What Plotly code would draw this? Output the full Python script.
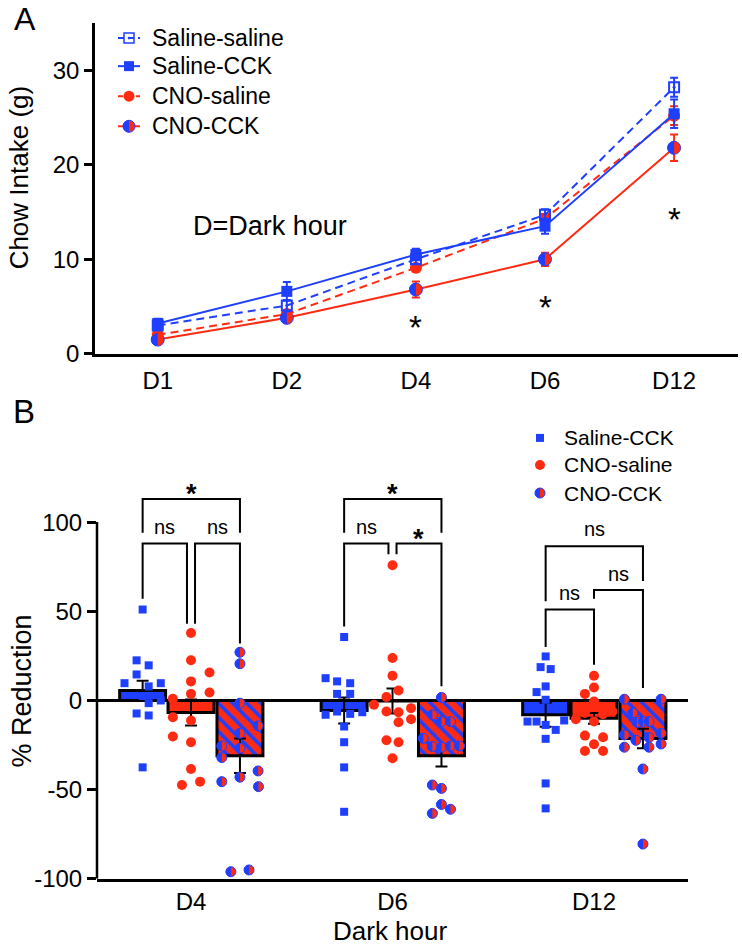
import math
import plotly.graph_objects as go

BLUE = "#1f3fff"
RED = "#ff2a12"
FONT = "Liberation Sans, Arial, sans-serif"

# ---------------- Panel A data ----------------
days_a = ["D1", "D2", "D4", "D6", "D12"]
sal_sal = [3.0, 5.1, 10.0, 14.7, 28.2]
sal_sal_err = [0.4, 0.6, 0.5, 0.6, 1.0]
sal_cck = [3.2, 6.6, 10.5, 13.5, 25.4]
sal_cck_err = [0.5, 1.0, 0.6, 0.8, 1.5]
cno_sal = [2.0, 4.2, 9.1, 14.3, 25.2]
cno_sal_err = [0.3, 0.4, 0.4, 0.5, 1.0]
cno_cck = [1.5, 3.8, 6.8, 10.0, 21.8]
cno_cck_err = [0.3, 0.4, 0.85, 0.7, 1.4]
sig_a_days = [2, 3, 4]
sig_a_y = [3.5, 5.6, 15.0]

# ---------------- Panel B data ----------------
days_b = ["D4", "D6", "D12"]
b_sal_cck_mean = [5.6, -5.6, -8.0]
b_sal_cck_sem = [5.5, 7.3, 6.7]
b_cno_sal_mean = [-6.7, -0.3, -10.0]
b_cno_sal_sem = [7.3, 7.0, 3.0]
b_cno_cck_mean = [-31.0, -31.0, -21.3]
b_cno_cck_sem = [9.7, 6.0, 5.5]

pts_sal_cck = [
    [51, 22.5, 19.7, 14.6, 9.7, 7.9, 9.7, 2.5, -1.5, 0.0, -7.3, -8.4, -37.5],
    [35.6, 12.5, 10.7, 9.7, 3.7, 3.7, -8, -6.2, -7.5, -6.6, -14.6, -23.4, -37.5, -62.4],
    [24.7, 18.7, 17.6, 7.9, 4.7, 0.4, -11.8, -11.8, -11.2, -13.7, -16.5, -21.5, -46.5, -60.5],
]
jit_sal_cck = [
    [0, -0.03, 0.03, -0.03, -0.09, 0.03, 0.09, 0, 0.03, 0.09, -0.03, 0.03, 0],
    [0, -0.092, -0.035, 0.03, -0.035, 0.03, -0.092, -0.035, 0.03, 0.09, 0, 0, 0, 0],
    [0, -0.025, 0.025, 0, -0.045, 0, -0.09, -0.045, 0.092, 0, 0.05, 0, 0, 0],
]
pts_cno_sal = [
    [37.8, 22.5, 15.7, 10.7, 3.7, 4.5, 1, -9.4, -11.2, -20.2, -23.4, -38.4, -47.4, -45.5],
    [75.8, 23.8, 13.9, 5.6, 1.9, -2.4, -4.3, -6.2, -6.6, -10.5, -12.2, -22.3, -23.4, -32.4],
    [13.9, 7.3, 3.7, -0.6, -10.5, -7, -7.7, -6.2, -11.8, -19.7, -20.6, -24.5, -28.3, -28.3],
]
jit_cno_sal = [
    [0, 0, 0.092, 0, 0, 0.092, -0.09, -0.09, 0, -0.09, 0, 0, -0.045, 0.045],
    [0, 0, 0, 0.03, -0.03, -0.092, 0.092, -0.03, 0.03, 0.092, 0.03, -0.03, 0.03, 0],
    [0, 0, -0.045, 0, -0.09, -0.045, 0.045, 0.092, 0, -0.045, 0.045, 0, -0.045, 0.045],
]
pts_cno_cck = [
    [27, 20.6, -1.5, -14.2, -18.4, -25.5, -26.8, -32, -39.5, -45.5, -43, -48.3, -96, -95],
    [1.7, -8, -11.8, -11.8, -21.2, -25.8, -26.2, -25.5, -25.5, -47.4, -49.3, -58.3, -61, -63.3],
    [0.7, 0.7, -7, -11.8, -11.8, -12.2, -19.3, -18.4, -22.3, -20.8, -24.4, -26.2, -26.2, -38.4, -80.5],
]
jit_cno_cck = [
    [0, 0, 0, 0.09, 0, -0.09, 0, -0.09, 0.09, -0.09, 0, 0.092, -0.045, 0.045],
    [0, -0.045, 0, 0.045, -0.09, -0.045, 0, 0.045, 0.09, -0.045, 0, 0, 0.045, -0.045],
    [-0.092, 0.09, -0.05, 0, 0.03, -0.03, -0.092, 0.09, -0.035, 0.03, 0.09, -0.092, 0.03, 0, 0],
]
b_ticks = [-100, -50, 0, 50, 100]
b_ticktext = ["-100", "-50", "0", "50", "100"]

OFF = [-0.24, 0.0, 0.243]
BW = 0.228

REF_H = 947   # layout coordinates are expressed in reference pixels
FIG_H = 962   # page height that the viewer fits into 947


def half_path(r, n=16):
    pts = []
    for k in range(n + 1):
        t = math.pi * k / n
        pts.append((-r * math.sin(t), r * math.cos(t)))
    return "M " + " L ".join(f"{x:.2f},{y:.2f}" for x, y in pts) + " Z"


shapes = []
annotations = []


def add_half(xref, yref, x, y, r):
    shapes.append(dict(type="path", xref=xref, yref=yref, xsizemode="pixel",
                       ysizemode="pixel", xanchor=x, yanchor=y, path=half_path(r),
                       fillcolor=BLUE, line=dict(width=0), layer="above"))


fig = go.Figure()
xa = list(range(len(days_a)))

fig.add_trace(go.Scatter(x=xa, y=cno_cck, mode="lines+markers", xaxis="x", yaxis="y",
                         line=dict(color=RED, width=2),
                         marker=dict(symbol="circle", size=13, color=RED, line=dict(width=1, color=BLUE)),
                         error_y=dict(type="data", array=cno_cck_err, color=RED, thickness=2, width=4),
                         cliponaxis=False, showlegend=False))
fig.add_trace(go.Scatter(x=xa, y=cno_sal, mode="lines+markers", xaxis="x", yaxis="y",
                         line=dict(color=RED, width=2, dash="8px,5px"),
                         marker=dict(symbol="circle", size=12, color=RED),
                         error_y=dict(type="data", array=cno_sal_err, color=RED, thickness=2, width=4),
                         cliponaxis=False, showlegend=False))
fig.add_trace(go.Scatter(x=xa, y=sal_cck, mode="lines+markers", xaxis="x", yaxis="y",
                         line=dict(color=BLUE, width=2),
                         marker=dict(symbol="square", size=11, color=BLUE),
                         error_y=dict(type="data", array=sal_cck_err, color=BLUE, thickness=2, width=4),
                         cliponaxis=False, showlegend=False))
fig.add_trace(go.Scatter(x=xa, y=sal_sal, mode="lines+markers", xaxis="x", yaxis="y",
                         line=dict(color=BLUE, width=2, dash="8px,5px"),
                         marker=dict(symbol="square-open-dot", size=10, color=BLUE, line=dict(width=2, color=BLUE)),
                         error_y=dict(type="data", array=sal_sal_err, color=BLUE, thickness=2, width=4),
                         cliponaxis=False, showlegend=False))
for xv, yv in zip(xa, cno_cck):
    add_half("x", "y", xv, yv, 6.5)

for d, yv in zip(sig_a_days, sig_a_y):
    annotations.append(dict(x=d, y=yv, xref="x", yref="y", text="*", showarrow=False,
                            font=dict(size=33, color="black", family=FONT), yshift=-7))
annotations.append(dict(x=0.87, y=13.5, xref="x", yref="y", text="D=Dark hour", showarrow=False,
                        font=dict(size=27, color="black", family=FONT)))

xb = list(range(len(days_b)))
fig.add_trace(go.Bar(x=[i + OFF[0] for i in xb], y=b_sal_cck_mean, width=BW, xaxis="x2", yaxis="y2",
                     marker=dict(color=BLUE, line=dict(color="black", width=3)),
                     error_y=dict(type="data", array=b_sal_cck_sem, color="black", thickness=2, width=6),
                     showlegend=False))
fig.add_trace(go.Bar(x=[i + OFF[1] for i in xb], y=b_cno_sal_mean, width=BW, xaxis="x2", yaxis="y2",
                     marker=dict(color=RED, line=dict(color="black", width=3)),
                     error_y=dict(type="data", array=b_cno_sal_sem, color="black", thickness=2, width=6),
                     showlegend=False))
fig.add_trace(go.Bar(x=[i + OFF[2] for i in xb], y=b_cno_cck_mean, width=BW, xaxis="x2", yaxis="y2",
                     marker=dict(color=RED, line=dict(color="black", width=3),
                                 pattern=dict(shape="\\", fgcolor=BLUE, bgcolor=RED, size=10,
                                              solidity=0.35, fillmode="replace")),
                     error_y=dict(type="data", array=b_cno_cck_sem, color="black", thickness=2, width=6),
                     showlegend=False))

for g, (pts, jit) in enumerate([(pts_sal_cck, jit_sal_cck), (pts_cno_sal, jit_cno_sal), (pts_cno_cck, jit_cno_cck)]):
    xs, ys = [], []
    for i in xb:
        for v, j in zip(pts[i], jit[i]):
            xs.append(i + OFF[g] + j)
            ys.append(v)
    if g == 0:
        mk = dict(symbol="square", size=8, color=BLUE)
    elif g == 1:
        mk = dict(symbol="circle", size=10, color=RED)
    else:
        mk = dict(symbol="circle", size=10, color=RED, line=dict(width=1, color=BLUE))
    fig.add_trace(go.Scatter(x=xs, y=ys, mode="markers", xaxis="x2", yaxis="y2", marker=mk,
                             cliponaxis=False, showlegend=False))
    if g == 2:
        for xv, yv in zip(xs, ys):
            add_half("x2", "y2", xv, yv, 5)

brackets = [
    (0, -0.24, 0.243, 113, 94, 94, "*", 0.0, 120, True),
    (0, -0.24, -0.02, 88, 57, 43, "ns", -0.13, 97, False),
    (0, 0.02, 0.243, 88, 43, 32, "ns", 0.13, 97, False),
    (1, -0.24, 0.243, 113, 94, 94, "*", 0.0, 120, True),
    (1, -0.24, -0.02, 88, 41.5, 82, "ns", -0.13, 97, False),
    (1, 0.02, 0.243, 88, 82, 8, "*", 0.13, 95, True),
    (2, -0.24, 0.243, 86.5, 55.6, 67, "ns", 0.0, 96, False),
    (2, -0.24, 0.0, 51, 30, 20, "ns", -0.122, 60, False),
    (2, 0.0, 0.243, 62, 57, 7, "ns", 0.122, 71, False),
]
for d, xl, xr, yt, yl, yr, lab, lx, ly, star in brackets:
    shapes.append(dict(type="path", xref="x2", yref="y2",
                       path=f"M {d + xl},{yl} L {d + xl},{yt} L {d + xr},{yt} L {d + xr},{yr}",
                       line=dict(color="black", width=2), layer="above"))
    if star:
        annotations.append(dict(x=d + lx, y=ly, xref="x2", yref="y2", text="<b>*</b>", showarrow=False,
                                font=dict(size=27, color="black", family=FONT), yshift=-8))
    else:
        annotations.append(dict(x=d + lx, y=ly, xref="x2", yref="y2", text="ns", showarrow=False,
                                font=dict(size=20, color="black", family=FONT)))

shapes.append(dict(type="line", xref="x2 domain", yref="y2", x0=0, x1=0, y0=-100, y1=100,
                   line=dict(color="black", width=2.5), layer="above"))

leg_a = [("Saline-saline", BLUE, "6px,4px", "square-open-dot", 10, False),
         ("Saline-CCK", BLUE, "solid", "square", 10, False),
         ("CNO-saline", RED, "5px,4px", "circle", 11, False),
         ("CNO-CCK", RED, "solid", "circle", 12, True)]
leg_a_y = [38, 66, 96, 126]
for (name, col, dash, sym, sz, half), yy in zip(leg_a, leg_a_y):
    fig.add_trace(go.Scatter(x=[118, 140], y=[yy, yy], mode="lines", xaxis="x3", yaxis="y3",
                             line=dict(color=col, width=2, dash=dash), showlegend=False))
    mk = dict(symbol=sym, size=sz, color=col)
    if sym == "square-open-dot":
        mk["line"] = dict(width=1.5, color=col)
    if half:
        mk["line"] = dict(width=1, color=BLUE)
    fig.add_trace(go.Scatter(x=[129], y=[yy], mode="markers", xaxis="x3", yaxis="y3",
                             marker=mk, showlegend=False))
    if half:
        add_half("x3", "y3", 129, yy, 6)
    annotations.append(dict(x=150, y=yy, xref="x3", yref="y3", text=name, showarrow=False,
                            xanchor="left", font=dict(size=23, color="black", family=FONT)))

leg_b = [("Saline-CCK", BLUE, "square", 8, False),
         ("CNO-saline", RED, "circle", 10, False),
         ("CNO-CCK", RED, "circle", 10, True)]
leg_b_y = [437, 464, 492]
for (name, col, sym, sz, half), yy in zip(leg_b, leg_b_y):
    mk = dict(symbol=sym, size=sz, color=col)
    if half:
        mk["line"] = dict(width=1, color=BLUE)
    fig.add_trace(go.Scatter(x=[540], y=[yy], mode="markers", xaxis="x3", yaxis="y3",
                             marker=mk, showlegend=False))
    if half:
        add_half("x3", "y3", 540, yy, 5)
    annotations.append(dict(x=562, y=yy, xref="x3", yref="y3", text=name, showarrow=False,
                            xanchor="left", font=dict(size=21, color="black", family=FONT)))

for txt, px, py, sz, ang in [("A", 25, 19, 32, 0), ("B", 24, 411, 33, 0),
                             ("Chow Intake (g)", 19, 177, 26, -90),
                             ("% Reduction", 22, 690, 27, -90),
                             ("Dark hour", 390, 929, 26, 0)]:
    annotations.append(dict(x=px, y=py, xref="x3", yref="y3", text=txt, showarrow=False,
                            textangle=ang, font=dict(size=sz, color="black", family=FONT)))

axis_common = dict(showgrid=False, zeroline=False, linecolor="black", linewidth=2.5,
                   tickfont=dict(size=24, color="black", family=FONT))

fig.update_layout(
    width=742, height=FIG_H, margin=dict(l=0, r=0, t=0, b=0),
    paper_bgcolor="white", plot_bgcolor="rgba(0,0,0,0)",
    barmode="overlay", showlegend=False,
    font=dict(family=FONT, color="black"),
    xaxis=dict(domain=[95 / 742, 738 / 742], range=[-0.486, 4.495], anchor="y",
               tickvals=xa, ticktext=days_a, showline=True, ticks="outside", ticklen=4,
               tickcolor="rgba(0,0,0,0)", **axis_common),
    yaxis=dict(domain=[1 - 353 / REF_H, 1 - 23 / REF_H], range=[0, 35], anchor="x",
               tickvals=[0, 10, 20, 30], showline=True, ticks="outside", ticklen=8,
               tickwidth=2.5, tickcolor="black", **axis_common),
    xaxis2=dict(domain=[97 / 742, 688 / 742], range=[-0.4665, 2.4665], anchor="y2",
                tickvals=xb, ticktext=days_b, showline=True, ticks="", **axis_common),
    yaxis2=dict(domain=[1 - 877 / REF_H, 1 - 467.6 / REF_H], range=[-100, 130], anchor="x2",
                tickvals=b_ticks, ticktext=b_ticktext, showline=False, ticks="outside", ticklen=9,
                tickwidth=2.5, tickcolor="black",
                **{**axis_common, "zeroline": True}, zerolinecolor="black", zerolinewidth=2.5),
    xaxis3=dict(domain=[0, 1], range=[0, 742], anchor="y3", visible=False, fixedrange=True),
    yaxis3=dict(domain=[0, 1], range=[REF_H, 0], anchor="x3", visible=False, fixedrange=True),
    shapes=shapes, annotations=annotations,
)

post = ("var s=document.createElement('style');"
        "s.innerHTML='html,body{margin:0;padding:0;overflow:hidden;}';"
        "document.head.appendChild(s);")
fig.write_html("out.html", config={"displayModeBar": False}, post_script=post)
